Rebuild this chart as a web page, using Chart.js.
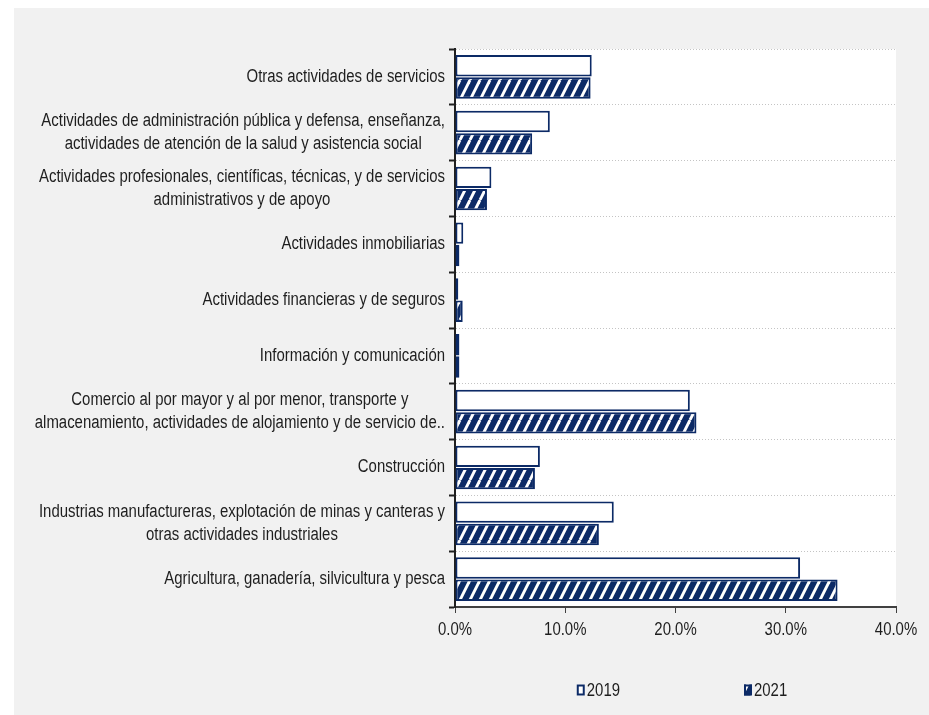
<!DOCTYPE html>
<html>
<head>
<meta charset="utf-8">
<title>Distribución por actividad económica</title>
<script src="https://cdn.jsdelivr.net/npm/chart.js@4.4.1/dist/chart.umd.min.js"></script>
<style>
    html, body { margin: 0; padding: 0; background: #fff; }
    #wrap { position: relative; width: 929px; height: 715px; }
</style>
</head>
<body>
<div id="wrap"><canvas id="chart"></canvas></div>
<script>
// --- data ---
const categories = [
    'Otras actividades de servicios',
    ['Actividades de administración pública y defensa, enseñanza,', 'actividades de atención de la salud y asistencia social'],
    ['Actividades profesionales, científicas, técnicas, y de servicios', 'administrativos y de apoyo'],
    'Actividades inmobiliarias',
    'Actividades financieras y de seguros',
    'Información y comunicación',
    ['Comercio al por mayor y al por menor, transporte y', 'almacenamiento, actividades de alojamiento y de servicio de..'],
    'Construcción',
    ['Industrias manufactureras, explotación de minas y canteras y', 'otras actividades industriales'],
    'Agricultura, ganadería, silvicultura y pesca'
];
const seriesNames = ['2019', '2021'];
const values2019 = [12.4, 8.6, 3.3, 0.75, 0.3, 0.4, 21.3, 7.7, 14.4, 31.3];
const values2021 = [12.3, 7.0, 2.9, 0.4, 0.7, 0.4, 21.9, 7.25, 13.05, 34.7];
const xTicks = [0, 10, 20, 30, 40];

// --- styles ---
const NAVY = '#0c2a66';
const PANEL_BG = '#f1f1f1';
const TEXT = '#1e1e1e';
const FONT_FAMILY = "'Liberation Sans', Arial, sans-serif";
const FONT_SIZE = 18;
const FONT = `${FONT_SIZE}px ${FONT_FAMILY}`;
const SQUEEZE = 0.83;   // condensed look, narrow-style lettering
const LINE_H = 22.5;

Chart.defaults.font.family = FONT_FAMILY;
Chart.defaults.font.size = FONT_SIZE;
Chart.defaults.color = TEXT;

function narrowWidth(ctx, text) {
    return ctx.measureText(text).width * SQUEEZE;
}

// text squeezed horizontally around its anchor
function drawNarrow(ctx, text, x, y, align) {
    ctx.save();
    ctx.translate(x, y);
    ctx.scale(SQUEEZE, 1);
    ctx.textAlign = align;
    ctx.fillText(text, 0, 0);
    ctx.restore();
}

// diagonal "/" hatch used for the 2021 bars
function makeHatch() {
    const w = 10, h = 20;
    const c = document.createElement('canvas');
    c.width = w; c.height = h;
    const g = c.getContext('2d');
    g.fillStyle = NAVY;
    g.fillRect(0, 0, w, h);
    g.strokeStyle = '#fff';
    g.lineWidth = 2.9;
    [-w, 0, w].forEach(dx => {
        g.beginPath();
        g.moveTo(dx, h);
        g.lineTo(dx + w, 0);
        g.stroke();
    });
    return document.getElementById('chart').getContext('2d').createPattern(c, 'repeat');
}
const hatch = makeHatch();

// grey panel behind everything, white plot area
const backdrop = {
    id: 'backdrop',
    beforeDraw(chart) {
        const { ctx, chartArea: a } = chart;
        ctx.save();
        ctx.fillStyle = PANEL_BG;
        ctx.fillRect(14, 8, chart.width - 14, chart.height - 8);
        ctx.fillStyle = '#fff';
        ctx.fillRect(a.left, a.top, a.right - a.left, a.bottom - a.top);
        ctx.restore();
    }
};

// category names: block right-aligned to the axis, lines centred inside the block
// x tick labels drawn the same condensed way
const axisText = {
    id: 'axisText',
    afterDraw(chart) {
        const { ctx, chartArea } = chart;
        const yScale = chart.scales.y;
        const xScale = chart.scales.x;
        ctx.save();
        ctx.font = FONT;
        ctx.fillStyle = TEXT;
        ctx.textBaseline = 'middle';
        categories.forEach((label, i) => {
            const lines = Array.isArray(label) ? label : [label];
            const w = Math.max(...lines.map(l => narrowWidth(ctx, l)));
            const cx = chartArea.left - 10 - w / 2;
            const cy = yScale.getPixelForValue(i);
            lines.forEach((l, j) => {
                drawNarrow(ctx, l, cx, cy + (j - (lines.length - 1) / 2) * LINE_H, 'center');
            });
        });
        xTicks.forEach(v => {
            drawNarrow(ctx, `${v.toFixed(1)}%`, xScale.getPixelForValue(v), chartArea.bottom + 23, 'center');
        });
        ctx.restore();
    }
};

// small square legend under the axis
const bottomLegend = {
    id: 'bottomLegend',
    afterDraw(chart) {
        const { ctx } = chart;
        const boxW = 8, boxH = 11, textGap = 2, itemGap = 124;
        const centreX = 682, cy = 690;
        ctx.save();
        ctx.font = FONT;
        ctx.textBaseline = 'middle';
        const items = chart.data.datasets.map(ds => ({
            ds, w: boxW + textGap + narrowWidth(ctx, ds.label)
        }));
        const total = items.reduce((s, it) => s + it.w, 0) + itemGap * (items.length - 1);
        let x = centreX - total / 2;
        items.forEach(({ ds, w }) => {
            ctx.fillStyle = ds.backgroundColor;
            ctx.fillRect(x, cy - boxH / 2, boxW, boxH);
            ctx.strokeStyle = NAVY;
            ctx.lineWidth = 2;
            ctx.strokeRect(x + 1, cy - boxH / 2 + 1, boxW - 2, boxH - 2);
            ctx.fillStyle = TEXT;
            drawNarrow(ctx, ds.label, x + boxW + textGap, cy + 1, 'left');
            x += w + itemGap;
        });
        ctx.restore();
    }
};

new Chart(document.getElementById('chart').getContext('2d'), {
    type: 'bar',
    data: {
        labels: categories,
        datasets: [
            {
                label: seriesNames[0],
                data: values2019,
                backgroundColor: '#ffffff',
                borderColor: NAVY,
                borderWidth: 2,
                borderSkipped: false
            },
            {
                label: seriesNames[1],
                data: values2021,
                backgroundColor: hatch,
                borderColor: NAVY,
                borderWidth: 2,
                borderSkipped: false
            }
        ]
    },
    options: {
        indexAxis: 'y',
        responsive: true,
        maintainAspectRatio: false,
        animation: false,
        categoryPercentage: 0.8,
        barPercentage: 0.96,
        layout: { padding: { top: 49, right: 33, left: 0, bottom: 0 } },
        plugins: {
            legend: { display: false },
            tooltip: { enabled: false }
        },
        scales: {
            x: {
                min: xTicks[0],
                max: xTicks[xTicks.length - 1],
                afterBuildTicks: scale => { scale.ticks = xTicks.map(v => ({ value: v })); },
                afterFit: scale => { scale.height = 108; },
                ticks: { display: false },
                grid: {
                    drawOnChartArea: false,
                    tickLength: 6,
                    tickColor: '#404040',
                    tickWidth: 1
                },
                border: { color: '#404040', width: 2 }
            },
            y: {
                afterFit: scale => { scale.width = 455; },
                ticks: { display: false },
                grid: {
                    offset: true,
                    color: '#c4c4c4',
                    lineWidth: 1,
                    tickBorderDash: [],
                    tickLength: 6,
                    tickColor: '#202020',
                    tickWidth: 2
                },
                border: { color: '#202020', width: 2, dash: [1, 2] }
            }
        }
    },
    plugins: [backdrop, axisText, bottomLegend]
});
</script>
</body>
</html>
